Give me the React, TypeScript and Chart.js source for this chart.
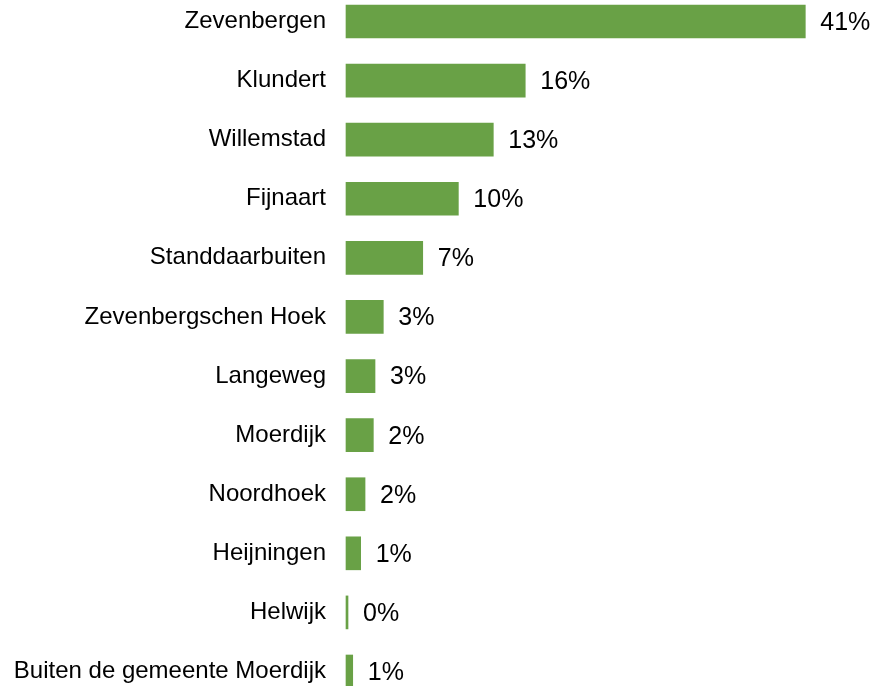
import React, { useEffect, useRef } from "react";
import { Chart, registerables } from "chart.js";

Chart.register(...registerables);

const categories = [
  "Zevenbergen",
  "Klundert",
  "Willemstad",
  "Fijnaart",
  "Standdaarbuiten",
  "Zevenbergschen Hoek",
  "Langeweg",
  "Moerdijk",
  "Noordhoek",
  "Heijningen",
  "Helwijk",
  "Buiten de gemeente Moerdijk",
];

const shares = [41, 16, 13.15, 10.03, 6.85, 3.33, 2.59, 2.44, 1.7, 1.31, 0.18, 0.6];

const shareLabels = ["41%", "16%", "13%", "10%", "7%", "3%", "3%", "2%", "2%", "1%", "0%", "1%"];

const BAR_COLOR = "#69a146";
const FONT = '"Liberation Sans", Arial, sans-serif';

const valueLabelPlugin = {
  id: "valueLabels",
  afterDatasetsDraw(chart: any) {
    const ctx = chart.ctx;
    const meta = chart.getDatasetMeta(0);
    ctx.save();
    ctx.font = `25px ${FONT}`;
    ctx.fillStyle = "#000000";
    ctx.textAlign = "left";
    ctx.textBaseline = "middle";
    meta.data.forEach((bar: any, i: number) => {
      ctx.fillText(shareLabels[i], bar.x + 15, bar.y + 1.5);
    });
    ctx.restore();
  },
};

export default function App() {
  const canvasRef = useRef<HTMLCanvasElement | null>(null);

  useEffect(() => {
    const canvas = canvasRef.current;
    if (!canvas) return;
    const chart = new Chart(canvas, {
      type: "bar",
      data: {
        labels: categories,
        datasets: [
          {
            data: shares,
            backgroundColor: BAR_COLOR,
            borderWidth: 0,
            barThickness: 33,
            clip: false,
          } as any,
        ],
      },
      options: {
        indexAxis: "y",
        responsive: false,
        animation: false,
        devicePixelRatio: 1,
        layout: { padding: { top: 21.5, bottom: 14.5, left: 0, right: 0 } },
        plugins: {
          legend: { display: false },
          tooltip: { enabled: false },
        },
        scales: {
          x: {
            display: false,
            min: 0,
            max: 47.4,
          },
          y: {
            offset: false,
            grid: { display: false, drawTicks: false },
            border: { display: false },
            ticks: {
              color: "#000000",
              padding: 20,
              font: { family: FONT, size: 24 },
              autoSkip: false,
            },
            afterFit: (scale: any) => {
              scale.width = 346;
              scale.paddingTop = 0;
              scale.paddingBottom = 0;
            },
          },
        },
      },
      plugins: [valueLabelPlugin],
    });
    return () => chart.destroy();
  }, []);

  return (
    <div style={{ position: "fixed", left: 0, top: 0, width: 877, height: 686, background: "#ffffff" }}>
      <canvas ref={canvasRef} width={877} height={686} style={{ display: "block" }} />
    </div>
  );
}
